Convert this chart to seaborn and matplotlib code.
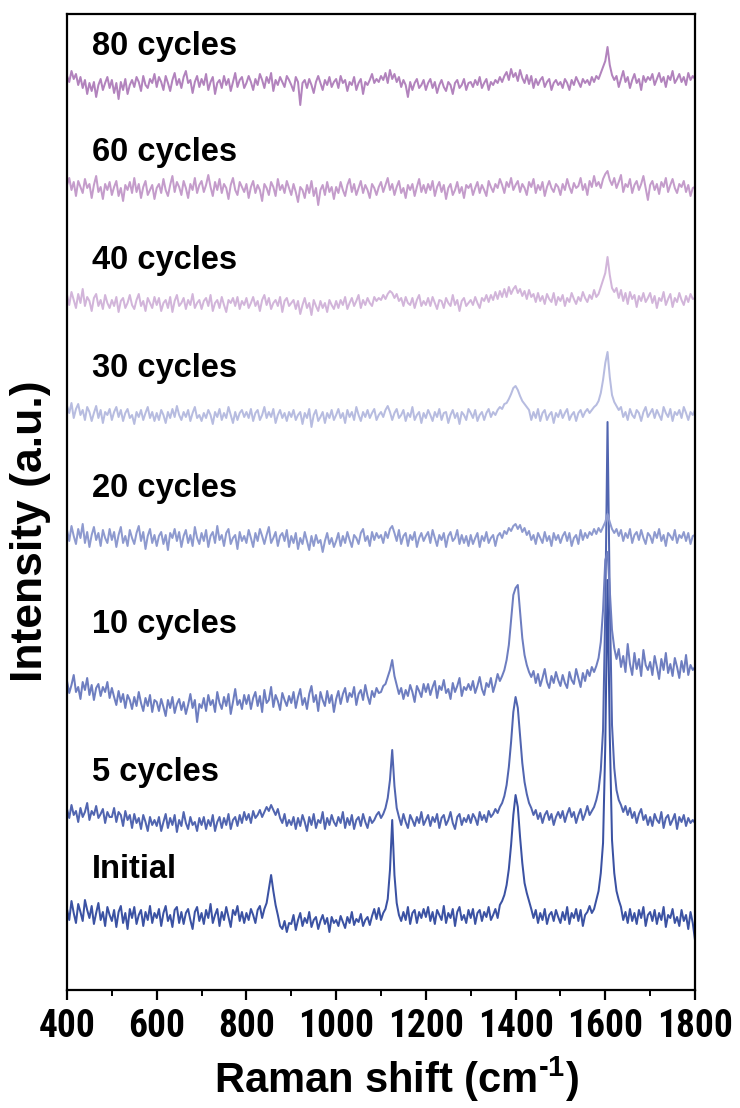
import numpy as np
import pandas as pd
import seaborn as sns
import matplotlib.pyplot as plt
from matplotlib import font_manager
from matplotlib.font_manager import FontProperties
from matplotlib.ticker import MultipleLocator

# Raman spectra (a.u.) sampled every 5 cm-1 from 400 to 1800 cm-1
STEP = 5
SHIFT_START = 400

samples = ["Initial", "5 cycles", "10 cycles", "20 cycles",
           "30 cycles", "40 cycles", "60 cycles", "80 cycles"]
colors = ["#3b52a3", "#5165b0", "#6e7ec0", "#8e9acf",
          "#b7bce0", "#d2b5da", "#c49ccb", "#b283bd"]
# vertical stacking offset of every spectrum
offsets = [75, 170, 290, 452, 575, 687, 800, 905]

initial = [
    6, -5, 14, 2, -8, 11, 3, -6, 15, 5, -3, 9, -9, 2, 12, -5, 3, -11, 8, 0,
    -6, 5, -12, 3, 9, -8, 2, -14, 6, -3, 8, -9, 0, 5, -11, 3, -5, 9, -8, 2,
    -3, 6, -11, 2, 9, -6, 0, -12, 5, 8, -8, 3, -9, 2, 6, -5, -14, 3, 8, -6,
    2, -9, 5, -3, 11, -8, 0, 6, -11, 3, -5, 8, -2, -12, 5, 0, 9, -6, 3, -8,
    2, -5, 6, 0, -8, 5, 9, -3, 6, 12, 26, 40, 24, 10, 0, -11, -14, -6, -17, -8,
    -9, 0, -15, -5, 2, -11, -3, -8, 3, -12, -5, -2, -14, -6, 0, -9, -3, -17, -2, -8,
    -5, -11, -1, -7, -13, -2, -8, 3, -10, -4, -7, 1, -11, -5, -2, -10, -1, 6, -4, 7,
    -5, 2, 6, 16, 45, 95, 40, 12, 0, -6, 3, -5, 8, -9, 2, 5, -8, 3, -3, 6,
    -2, 8, -6, 3, -9, 5, 0, -5, 9, -8, 2, -3, 6, -11, 3, 8, -5, 0, -8, 5,
    -3, 6, -9, 2, 5, -6, 3, -2, 8, -5, 0, 6, -3, 10, 14, 20, 30, 46, 70, 100,
    120, 108, 78, 52, 32, 22, 14, 6, -3, 5, -8, 2, -5, 6, -9, 0, 3, -6, 5, -2,
    -8, 3, -5, 8, -9, 2, -3, 6, -6, 5, -11, 0, 3, 9, 2, 6, 15, 24, 42, 72,
    170, 335, 180, 75, 42, 24, 15, 8, -5, 3, -8, 6, -6, 2, -9, 5, -3, 8, -11, 0,
    3, -6, 5, -9, 2, -5, 8, -12, 0, -3, 6, -8, -2, -11, 5, -6, 0, -14, 3, -8,
    -25,
]

cycles_5 = [
    11, 2, 15, 5, 9, -2, 12, 3, 8, 17, 0, 9, 5, 14, 2, 6, 11, -3, 8, 3,
    3, 12, -2, 8, 5, -6, 9, 0, 5, -8, 6, -3, 2, -9, 5, -2, -11, 3, -5, 0,
    -6, 3, -11, -2, 6, -8, 2, -5, 5, -12, 0, -6, 8, -3, -9, 3, -5, -2, -11, 2,
    -5, 3, -9, 0, -6, 5, -11, -2, 3, -8, 2, -5, 6, -9, 0, 3, -6, 5, -3, 8,
    0, 6, -3, 9, 2, 5, 10, 3, 8, 13, 9, 15, 10, 5, 11, 2, -3, 6, -6, 0,
    -5, 3, -9, 2, -6, 5, -2, -11, 3, -5, 6, -8, 0, -3, 8, -9, 2, -5, 5, -2,
    -6, 3, -3, 8, -8, 2, -5, 5, -9, 0, 3, -6, 6, -2, -8, 3, -3, 0, 5, 8,
    2, 6, 12, 22, 40, 70, 34, 12, 3, -5, 6, -2, -8, 5, 0, -6, 3, -3, 8, -5,
    0, 5, -6, 3, -2, 6, -8, 2, 5, -5, 0, 8, -3, -9, 3, 6, -5, 2, -2, 5,
    -3, 6, 2, -5, 8, 0, 5, -2, 9, 3, 6, 11, 7, 13, 17, 24, 35, 53, 78, 108,
    123, 112, 84, 57, 38, 26, 17, 12, 5, 10, 1, 7, -3, 5, 9, 0, 6, -5, 3, 8,
    2, 9, -2, 6, 12, 3, 8, -3, 5, 11, 0, 6, 14, 5, 9, 13, 20, 30, 50, 90,
    210, 398, 220, 95, 52, 30, 20, 15, 8, 14, 5, 12, 2, 8, -3, 6, 11, 0, 5, -5,
    3, -6, 6, 0, -3, 8, -8, 2, 5, -5, 0, 6, -9, 3, -2, 5, -6, 2, -3, 0,
    -3,
]

cycles_10 = [
    19, 7, 15, 25, 8, 13, 1, 18, 10, 22, 5, 15, 0, 12, 16, 4, 13, 8, 18, 2,
    12, 3, -5, 9, -2, 6, -8, 5, 0, -9, 3, -6, 8, -3, -11, 2, -6, 5, -12, 0,
    -2, -11, 1, -7, -16, 0, -8, 3, -13, -4, 1, -10, -2, -14, -5, 6, -8, 0, -22, -4,
    -8, 2, -11, 5, -5, 0, -12, 8, -3, -9, 3, -6, 6, -14, -2, 11, -5, 0, -9, 5,
    -4, 5, -9, 2, 8, -6, 4, -12, 10, -3, 0, 13, -7, 5, -1, -10, 7, 0, -6, 4,
    -3, 8, -8, 3, 11, -5, 2, -9, 6, 14, -2, 5, -11, 8, 0, -6, 9, -3, 5, -12,
    1, 9, -4, 6, 12, -2, 7, 3, 13, -5, 6, 10, 0, 15, 4, -4, 9, 3, 12, 7,
    8, 14, 16, 23, 30, 40, 24, 15, 6, 12, 1, 10, 4, 15, 8, -2, 14, 9, 3, 16,
    8, 16, 5, 13, 19, 2, 14, 10, 20, 7, 11, 1, 17, 8, 14, 22, 4, 13, 10, 16,
    10, 19, 7, 14, 23, 11, 5, 17, 13, 22, 8, 16, 26, 19, 24, 30, 40, 55, 80, 105,
    112, 115, 88, 62, 45, 35, 28, 23, 29, 17, 26, 14, 22, 31, 18, 12, 24, 17, 28, 20,
    14, 25, 17, 12, 28, 20, 16, 31, 22, 13, 27, 19, 30, 24, 33, 28, 34, 42, 58, 90,
    140, 148, 110, 70, 52, 41, 51, 33, 44, 28, 56, 36, 25, 47, 31, 41, 24, 50, 35, 30,
    38, 25, 44, 33, 21, 41, 30, 47, 27, 36, 24, 42, 33, 22, 39, 28, 45, 25, 35, 30,
    33,
]

cycles_20 = [
    8, -3, 12, 2, -6, 9, 0, 14, -5, 6, -9, 3, 11, -2, 5, -8, 8, 0, -5, 9,
    -2, 6, -9, 3, 11, -5, 2, -8, 8, 0, -6, 5, 12, -3, 6, -11, 2, 9, -5, 3,
    -8, 2, 6, -6, 3, -12, 5, 0, 9, -3, 6, -9, 2, 8, -5, 3, -8, 11, 0, -6,
    5, -3, 8, -9, 2, 6, -5, 12, -2, 3, -8, 5, 9, -6, 0, 3, -11, 6, -3, 2,
    -5, 8, 0, -9, 5, -3, 9, 2, -6, 3, 11, -5, 0, 6, -8, 2, 5, -3, 8, -9,
    2, -5, 5, -11, 0, -6, 6, -3, -12, 2, -8, 3, -5, -2, -14, -3, 5, -6, 0, -9,
    -3, 5, -8, 2, -5, 6, -2, -9, 3, 0, -6, 5, 9, -3, 2, -8, 6, -2, 5, 0,
    3, -5, 6, 0, 9, 12, 5, -3, 8, -6, 2, 5, -8, 3, -2, 6, -9, 0, 5, -3,
    2, 6, -5, 8, 0, -8, 3, -2, 5, -9, 2, 6, -3, 0, 8, -6, 3, -5, 2, -8,
    3, -6, 0, 5, -9, 2, -3, 6, -5, 0, 3, -8, 2, 5, 0, 7, 4, 10, 7, 12,
    14, 9, 13, 6, 10, 3, 7, -2, 3, -6, 5, 0, -5, 6, -3, 2, -8, 5, -2, 3,
    -5, 2, 6, -3, 5, -8, 0, 3, -6, 8, -2, 5, 0, 6, 3, 9, 4, 10, 6, 11,
    16, 24, 16, 9, 5, 9, 2, 8, -3, 5, 0, 9, -5, 3, 6, -2, 8, 0, -6, 5,
    2, -5, 6, 0, 9, -3, 3, -8, 5, 2, -2, 8, -5, 3, 0, 6, -3, 5, -6, 2,
    3,
]

cycles_30 = [
    9, 2, 12, -3, 6, 11, 0, 5, -5, 8, 3, -6, 2, 9, -3, 5, -8, 3, 0, 6,
    -5, 3, 8, -2, 5, -6, 2, 6, -3, 0, -9, 3, -2, 5, -5, 2, 8, -3, 3, -6,
    2, -5, 5, 0, -8, 3, -3, 6, -2, 9, 0, -5, 3, -2, 5, -6, 2, 8, -3, 0,
    -6, 2, -3, 5, 0, -9, 3, -2, 6, -5, 2, -3, 8, 0, -8, 3, -5, 2, 5, -2,
    3, -3, 6, -6, 2, 5, -5, 0, 8, -3, 3, -2, 6, -8, 0, 5, -3, 2, -6, 3,
    -2, 5, -5, 0, 3, -9, 2, -3, 6, -12, 0, 5, -6, -2, 3, -8, 2, -3, 5, -5,
    0, 6, -3, 2, -8, 5, -2, 3, -5, 8, 0, -6, 3, -2, 5, -3, 2, 6, -5, 0,
    3, -2, 5, 9, 3, -5, 2, 6, -3, 0, 5, -6, 2, -2, 8, -5, 0, 3, -8, 2,
    -3, 5, 0, -6, 3, -2, 6, -5, 2, 3, -8, 0, 5, -3, 2, -9, 3, 0, -5, 6,
    2, -3, 5, -6, 0, 3, -5, 2, 6, -2, 3, 0, 5, 8, 6, 11, 12, 16, 21, 27,
    29, 25, 19, 14, 11, 8, 5, -5, 3, -3, 6, -6, 2, 5, -5, 0, 3, -8, 2, -2,
    5, -3, 2, 6, -5, 0, 3, -6, 2, 5, -2, 3, 6, 2, 5, 8, 10, 14, 22, 35,
    52, 63, 38, 20, 13, 9, 5, 8, -2, 3, -5, 6, 0, -3, 5, 2, -6, 3, 8, -2,
    2, 6, -3, 5, 0, -5, 8, 2, -2, 6, -6, 3, 0, 5, -3, 8, 2, -5, 3, 0,
    5,
]

cycles_40 = [
    8, -2, 11, 3, -5, 9, 0, 14, -3, 6, 2, -8, 5, 9, -3, 3, -6, 8, 0, -5,
    3, -3, 6, -9, 2, 5, -5, 0, 8, -2, -6, 3, 9, -3, 2, -8, 5, 0, -5, 6,
    -2, 5, -8, 0, 3, -5, 6, -9, 2, 8, -3, 0, 5, -6, 3, -2, 9, -5, 0, 3,
    -6, 2, 5, -3, 8, -8, 0, 3, -5, 6, -2, -9, 3, 0, 5, -3, 6, -6, 2, -2,
    5, -5, 0, 6, -3, 2, -8, 3, 8, -2, 5, -6, 0, 3, -3, 6, -9, 2, 5, -3,
    0, 3, -6, 2, -11, -2, 5, -5, 0, -12, 3, -3, -8, 2, -5, 0, -9, 3, -2, -6,
    2, -5, 3, -2, 6, -6, 0, 5, -3, 2, 8, -5, 3, -2, 5, 0, -3, 6, 2, 5,
    3, 8, 4, 9, 12, 10, 5, 9, 2, 5, -3, 6, 0, -2, 5, -5, 3, 8, -3, 2,
    -2, 5, -3, 6, 0, -6, 3, 2, -5, 5, 0, -3, 8, -2, 3, -8, 2, 5, -3, 0,
    3, -2, 6, 0, -5, 5, 2, 8, 1, 8, 3, 11, 4, 12, 6, 14, 6, 16, 9, 14,
    17, 10, 14, 7, 12, 4, 13, 6, 9, 1, 10, 2, 7, -1, 9, 4, 1, 10, -2, 6,
    2, 8, -3, 5, 1, 10, 4, -1, 6, 2, 11, 5, 1, 8, 4, 13, 6, 9, 16, 23,
    30, 46, 28, 15, 11, 15, 5, 13, 2, 10, -1, 11, 4, 8, -4, 7, 2, 10, 1, 5,
    10, 0, 7, -5, 5, 2, 11, -2, 4, 9, -4, 5, 1, 10, 3, -2, 7, 1, 9, 4,
    5,
]

cycles_60 = [
    5, 12, 0, 8, -6, 9, 3, -3, 11, 2, 6, -8, 5, 14, -2, 3, -9, 6, 0, 8,
    -5, 3, 9, -6, 2, -11, 5, 0, 8, -3, 12, -2, 6, -8, 3, 9, -5, 0, 5, -9,
    2, 6, -3, 11, 0, -6, 5, 14, -2, 8, 3, -5, 9, 2, -8, 6, 0, 12, -3, 5,
    9, -2, 5, 15, 3, -6, 8, 0, 11, -3, 6, 2, -9, 5, 12, 0, -5, 8, 3, -2,
    6, -8, 3, 9, -3, 5, 0, -11, 6, 2, -5, 8, 3, -6, 11, 0, 5, -3, 9, 2,
    -5, 6, -2, -12, 3, 0, -8, 5, -3, 9, -6, 2, -15, 0, 5, -5, 8, -2, 3, -9,
    3, -3, 8, 0, -6, 5, 11, -2, 6, -5, 2, 9, -3, 5, 0, -8, 6, 2, -5, 3,
    8, -2, 5, 12, 0, 6, -5, 3, 9, -3, 2, -8, 5, 0, 6, -6, 3, 11, -2, 5,
    -3, 6, 0, 9, -6, 3, 8, -2, 5, -9, 2, 6, -5, 0, 8, -3, 3, -8, 5, 2,
    6, -5, 2, 8, -3, 5, 0, -6, 9, 3, -2, 6, 2, 11, 5, -3, 8, 3, 12, 0,
    5, 9, -2, 6, 2, -5, 8, 3, 11, -3, 5, 0, 8, -6, 3, 9, 2, -2, 6, 3,
    -5, 6, 0, 11, 3, -3, 7, 2, 4, 12, 0, 6, -5, 9, 3, 14, 4, 8, 2, 11,
    16, 19, 10, 5, 12, 2, 8, 15, -2, 6, 3, 11, -3, 5, 9, 0, 6, 14, 2, -10,
    5, 9, 0, 6, -4, 8, 3, 12, -2, 5, 11, 2, -3, 6, 3, 9, -2, 5, -6, 2,
    3,
]

cycles_80 = [
    9, 3, 14, 6, 11, 0, 8, -3, 5, -9, 2, -6, 3, -12, 0, 6, -5, 2, 8, -3,
    5, -8, 2, -14, 3, -5, 6, -9, 0, 5, -2, 8, 3, -6, 9, 0, -3, 6, 2, 11,
    -2, 8, 3, -5, 9, 2, -6, 5, 12, 0, 6, -3, 8, 14, 2, 5, -8, 3, 9, -2,
    6, 0, 11, -5, 3, 8, -9, 2, 5, -3, 9, 0, 6, -6, 3, 12, -2, 5, 8, -3,
    2, 9, 3, -5, 6, 0, 11, 5, -3, 8, 2, 12, -6, 5, 0, 8, 3, -2, 9, 5,
    0, -6, 8, 3, -20, 2, 5, -3, 6, 0, -8, 3, 9, 2, -5, 5, 0, 8, -2, 3,
    6, -3, 9, 2, 5, -6, 3, 0, 8, -5, 2, 6, -9, 3, 0, 5, 11, 2, 6, 3,
    9, 5, 12, 2, 15, 6, 11, 3, 8, -2, 5, 0, -12, 3, -5, 2, 6, -3, 0, 5,
    -5, 2, 6, -3, 3, -8, 0, 5, -2, -6, 3, 0, -9, 2, 5, -3, 0, 6, -5, 2,
    3, -2, 5, 0, 8, -3, 2, 6, -5, 3, 0, 5, 2, 8, 3, 9, 13, 5, 16, 8,
    12, 4, 15, 7, 2, 10, 1, 9, -3, 6, 0, 5, 8, -2, 3, 6, -5, 2, 5, 0,
    3, -3, 6, 2, -5, 5, 0, 8, 3, -2, 6, 2, 5, 0, 8, 3, 9, 6, 12, 18,
    24, 38, 20, 10, 5, 9, -2, 6, 14, 3, 8, -3, 5, 11, 2, 6, -5, 9, 3, 8,
    5, 11, 0, 6, 12, 3, 8, -2, 9, 5, 14, 2, 6, 11, 3, 8, 0, 12, 5, 9,
    6,
]

spectra = [initial, cycles_5, cycles_10, cycles_20,
           cycles_30, cycles_40, cycles_60, cycles_80]

xticks = [400, 600, 800, 1000, 1200, 1400, 1600, 1800]

# long-format table with each spectrum lifted by its offset
frames = []
for name, values, off in zip(samples, spectra, offsets):
    v = np.asarray(values, dtype=float)
    frames.append(pd.DataFrame({
        "shift": SHIFT_START + STEP * np.arange(len(v)),
        "intensity": v + off,
        "sample": name,
    }))
df = pd.concat(frames, ignore_index=True)

sns.set_theme(style="white")
plt.rcParams["font.family"] = ["Liberation Sans", "DejaVu Sans"]
plt.rcParams["mathtext.fontset"] = "custom"
plt.rcParams["mathtext.rm"] = "Liberation Sans:bold"
plt.rcParams["mathtext.it"] = "Liberation Sans:bold"
plt.rcParams["mathtext.bf"] = "Liberation Sans:bold"


def narrow_tick_font():
    """Pick a bold narrow face for the tick numbers, if one is installed."""
    wanted = [
        ("liberationsansnarrow-bold.", 29),
        ("arialnarrowbold", 29),
        ("robotocondensed-bold.", 27),
        ("notosans-condensedbold.", 27),
        ("notosanscondensed-bold.", 27),
        ("opensans-condensedbold.", 27),
    ]
    files = [f.fname for f in font_manager.fontManager.ttflist]
    for key, size in wanted:
        for path in files:
            if key in path.lower().replace("_", "").replace(" ", ""):
                return FontProperties(fname=path, size=size)
    return FontProperties(family="Liberation Sans", weight="bold", size=23)


fig = plt.figure(figsize=(7.4, 11.08), dpi=100)
ax = fig.add_axes([67 / 740, 118 / 1108, 628 / 740, 976 / 1108])

sns.lineplot(data=df, x="shift", y="intensity", hue="sample",
             palette=dict(zip(samples, colors)), hue_order=samples,
             estimator=None, sort=False, legend=False,
             linewidth=1.45, ax=ax)

ax.set_xlim(400, 1800)
ax.set_ylim(0, 976)
ax.set_yticks([])

# sample names above each spectrum
label_y = [121, 218, 365, 502, 621, 729, 838, 943]
for name, y in zip(samples, label_y):
    ax.text(456, y, name, fontsize=23.5, fontweight="bold",
            ha="left", va="center", color="black")

tick_font = narrow_tick_font()
ax.set_xticks(xticks, labels=[str(t) for t in xticks])
for lbl in ax.get_xticklabels():
    lbl.set_fontproperties(tick_font)
ax.xaxis.set_minor_locator(MultipleLocator(100))
ax.tick_params(axis="x", which="major", bottom=True, direction="out",
               length=7, width=1.6, color="black", pad=6, labelcolor="black")
ax.tick_params(axis="x", which="minor", bottom=True, direction="out",
               length=4, width=1.4, color="black")

for side in ["left", "right", "top", "bottom"]:
    ax.spines[side].set_visible(True)
    ax.spines[side].set_color("black")
    ax.spines[side].set_linewidth(1.6)

ax.set_xlabel("Raman shift (cm$^{\u2010 1}$)", fontsize=30, fontweight="bold",
              color="black")
ax.xaxis.set_label_coords(0.525, -0.066)
ax.set_ylabel("Intensity (a.u.)", fontsize=32, fontweight="bold",
              color="black")
ax.yaxis.set_label_coords(-0.025, 0.47)

fig.savefig("out.png", dpi=100, facecolor="white")
